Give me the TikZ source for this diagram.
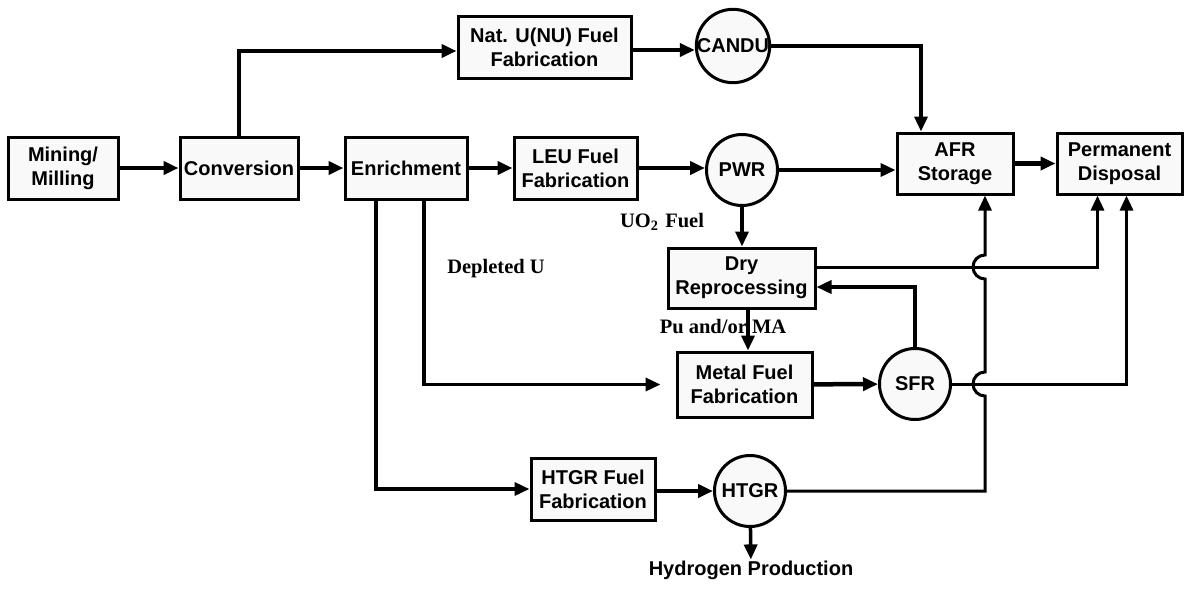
\documentclass[tikz,border=0pt]{standalone}
\usepackage{fontspec}
\setmainfont{Liberation Sans}
\newfontfamily\labelfont{Liberation Serif}
\usetikzlibrary{arrows.meta}

\begin{document}
\begin{tikzpicture}[x=1pt, y=-1pt, >={Triangle[length=15pt,width=13pt]},
  stage/.style={draw, line width=3pt, fill=gray!5, align=center, inner sep=0pt,
    font=\fontsize{20}{24}\selectfont\bfseries},
  reactor/.style={draw, circle, line width=3pt, fill=gray!5, inner sep=0pt,
    minimum size=71pt, font=\fontsize{20}{24}\selectfont\bfseries},
  flow/.style={line width=4.5pt, ->},
  link/.style={line width=3.5pt, ->},
  wire/.style={line width=3pt, ->},
  tag/.style={font=\fontsize{20.5}{24}\selectfont\labelfont\bfseries}]
  \useasboundingbox (0,0) rectangle (1186,590);
  % front end
  \node[stage, minimum width=110pt, minimum height=62pt] (mining) at (63,168) {Mining/\\Milling};
  \node[stage, minimum width=118pt, minimum height=62pt] (conv) at (239,168) {Conversion};
  \node[stage, minimum width=122pt, minimum height=62pt] (enrich) at (406,168) {Enrichment};
  \node[stage, minimum width=123pt, minimum height=62pt] (leu) at (575.5,168) {LEU Fuel\\Fabrication};
  \node[stage, minimum width=173pt, minimum height=62pt] (natu) at (544.5,47) {Nat. U(NU) Fuel\\Fabrication};
  % reactors
  \node[reactor] (candu) at (733,46) {CANDU};
  \node[reactor] (pwr) at (742,170) {PWR};
  \node[reactor] (sfr) at (915,384) {SFR};
  \node[reactor] (htgr) at (750,491) {HTGR};
  % back end
  \node[stage, minimum width=116pt, minimum height=61pt] (afr) at (955,163.5) {AFR\\Storage};
  \node[stage, minimum width=125pt, minimum height=61pt] (perm) at (1119.5,163.5) {Permanent\\Disposal};
  \node[stage, minimum width=147pt, minimum height=60pt] (dry) at (741.5,278) {Dry\\Reprocessing};
  \node[stage, minimum width=135pt, minimum height=65pt] (metal) at (744.5,384.5) {Metal Fuel\\Fabrication};
  \node[stage, minimum width=124pt, minimum height=62pt] (htgrfab) at (593,489) {HTGR Fuel\\Fabrication};
  \node[font=\fontsize{20}{24}\selectfont\bfseries, inner sep=1pt] (hydro) at (751,570) {Hydrogen Production};
  % jump points on the HTGR line
  \coordinate (hopA) at (985,396);
  \coordinate (hopB) at (985,279);

  \draw[flow] (mining) -- (conv);
  \draw[flow] (conv) -- (enrich);
  \draw[flow] (enrich) -- (leu);
  \draw[flow] (conv.north) |- ([yshift=-4pt]natu.west);
  \draw[flow] ([yshift=-3pt]natu.east) -- ([yshift=-3pt]natu.east -| candu.west);
  \draw[flow] (leu.east) -- (leu.east -| pwr.west);
  \draw[link] (candu.east) -| ([xshift=-34pt]afr.north);
  \draw[link] (pwr.east) -- (pwr.east -| afr.west);
  \draw[flow] (afr) -- (perm);
  \draw[link] (pwr) -- (pwr |- dry.north);
  \draw[link] ([xshift=-30pt]enrich.south) |- (htgrfab.west);
  \draw[link, shorten >=15pt] ([xshift=18pt]enrich.south) |- (metal.west);
  \draw[link] ([xshift=6.5pt]dry.south) -- ([xshift=3.5pt]metal.north);
  \draw[flow] (metal) -- (sfr);
  \draw[link] (sfr.north) |- ([yshift=-9pt]dry.east);
  \draw[wire] ([yshift=11pt]dry.east) -| ([xshift=-22pt]perm.south);
  \draw[wire] (sfr.east) -| ([xshift=7pt]perm.south);
  \draw[flow] ([yshift=-2pt]htgrfab.east) -- ([yshift=-2pt]htgrfab.east -| htgr.west);
  \draw[link] (htgr) -- (hydro);
  \draw[wire] (htgr.east) -| (hopA) arc[start angle=270, end angle=90, radius=12pt]
    -- (hopB) arc[start angle=270, end angle=90, radius=12pt] -- ([xshift=30pt]afr.south);

  % stream labels
  \node[tag] (uo2) at (662,222) {UO\textsubscript{2}\,\,Fuel};
  \node[tag] (depl) at (496,269) {Depleted U};
  \node[tag] (puma) at (723,327) {Pu and/or MA};
\end{tikzpicture}
\end{document}
